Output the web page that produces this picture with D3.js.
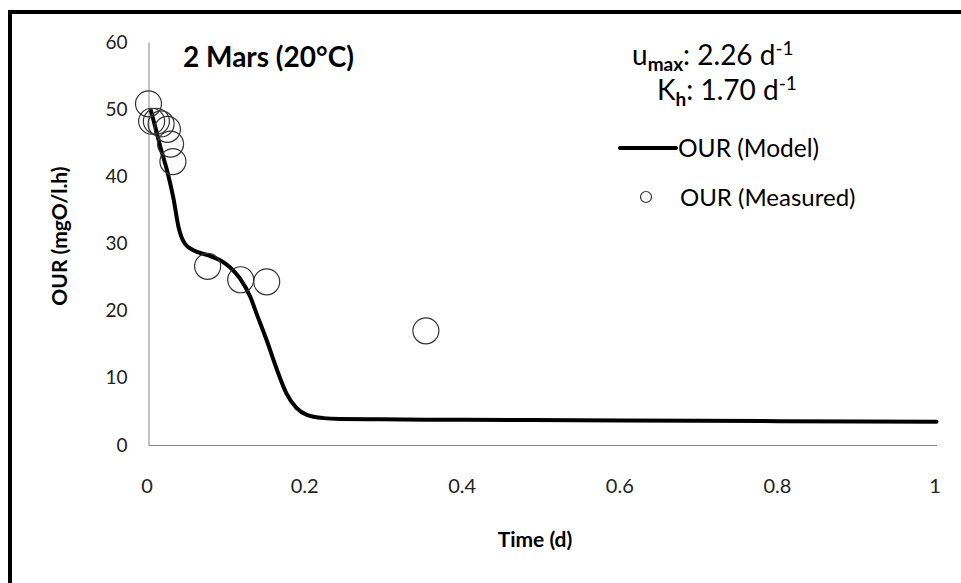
<!DOCTYPE html>
<html>
<head>
<meta charset="utf-8">
<script src="https://cdn.jsdelivr.net/npm/d3@7"></script>
<style>
  body { margin: 0; background: #fff; }
  svg { display: block; font-family: Lato, sans-serif; }
</style>
</head>
<body>
<div id="viz"></div>
<script>
// measured OUR points
const measuredTime = [0.0, 0.004, 0.010, 0.016, 0.024, 0.028, 0.031, 0.075, 0.117, 0.150, 0.352]
const measuredOUR = [50.8, 48.2, 48.2, 47.8, 47.0, 44.8, 42.2, 26.6, 24.6, 24.3, 17.0]

// model curve
const modelTime = [0.003, 0.008, 0.015, 0.025, 0.032, 0.038, 0.046, 0.057, 0.074, 0.091, 0.103,
    0.116, 0.129, 0.137, 0.150, 0.163, 0.175, 0.188, 0.201, 0.222, 0.243, 0.294, 0.4, 0.6, 0.8, 1.0]
const modelOUR = [49.8, 47.6, 44.4, 40.2, 36.5, 32.5, 30.0, 29.0, 28.3, 27.5, 26.5,
    24.8, 22.1, 19.6, 15.6, 11.2, 7.7, 5.5, 4.5, 4.0, 3.87, 3.82, 3.75, 3.65, 3.55, 3.45]

const xTicks = [0, 0.2, 0.4, 0.6, 0.8, 1]
const yTicks = [0, 10, 20, 30, 40, 50, 60]

const width = 961,
    height = 583

const margin = { top: 42, right: 24.5, bottom: 138, left: 148.5 },
    innerWidth = width - margin.left - margin.right,
    innerHeight = height - margin.top - margin.bottom

const svg = d3.select('#viz').append('svg')
    .attr('width', width)
    .attr('height', height)
    .attr('viewBox', [0, 0, width, height])

// outer frame (only top and left edges visible)
svg.append('path')
    .attr('d', `M10,${height} L10,12 L${width},12`)
    .attr('fill', 'none')
    .attr('stroke', '#000')
    .attr('stroke-width', 4)

const g = svg.append('g')
    .attr('transform', `translate(${margin.left}, ${margin.top})`)

const x = d3.scaleLinear().domain([0, 1]).range([0, innerWidth])
const y = d3.scaleLinear().domain([0, 60]).range([innerHeight, 0])

const xAxis = d3.axisBottom(x).tickValues(xTicks).tickSize(0).tickPadding(34)
    .tickFormat(d => d3.format('')(d))
const yAxis = d3.axisLeft(y).tickValues(yTicks).tickSize(0).tickPadding(21)

const xAxisG = g.append('g')
    .attr('transform', `translate(0, ${innerHeight})`)
    .call(xAxis)
const yAxisG = g.append('g').call(yAxis)

;[xAxisG, yAxisG].forEach(a => {
    a.select('.domain').attr('stroke', '#868686').attr('stroke-width', 1)
    a.selectAll('text')
        .attr('fill', '#222')
        .style('font-family', 'Lato, sans-serif')
})
xAxisG.selectAll('text').attr('dx', -2).style('font-size', '20px')
yAxisG.selectAll('text').style('font-size', '19px')

// axis titles
svg.append('text')
    .attr('x', 535)
    .attr('y', 547)
    .attr('text-anchor', 'middle')
    .style('font-weight', 'bold')
    .style('font-size', '21px')
    .text('Time (d)')

svg.append('text')
    .attr('transform', 'translate(67, 236) rotate(-90)')
    .attr('text-anchor', 'middle')
    .style('font-weight', 'bold')
    .style('font-size', '21px')
    .text('OUR (mgO/l.h)')

// chart title inside plot
svg.append('text')
    .attr('x', 183)
    .attr('y', 67)
    .style('font-weight', 'bold')
    .style('font-size', '28px')
    .text('2 Mars (20°C)')

// model parameters
const p1 = svg.append('text').attr('x', 632).attr('y', 65).style('font-size', '28px')
p1.append('tspan').text('u')
p1.append('tspan').attr('dy', 6).style('font-size', '19px').style('font-weight', 'bold').text('max')
p1.append('tspan').attr('dy', -6).text(': 2.26 d')
p1.append('tspan').attr('dy', -10).style('font-size', '19px').text('-1')

const p2 = svg.append('text').attr('x', 657).attr('y', 100).style('font-size', '28px')
p2.append('tspan').text('K')
p2.append('tspan').attr('dy', 6).style('font-size', '19px').style('font-weight', 'bold').text('h')
p2.append('tspan').attr('dy', -6).text(': 1.70 d')
p2.append('tspan').attr('dy', -10).style('font-size', '19px').text('-1')

// model line
const modelData = modelTime.map((t, i) => ({ t: t, v: modelOUR[i] }))
const line = d3.line()
    .x(d => x(d.t))
    .y(d => y(d.v))
    .curve(d3.curveMonotoneX)

g.append('path')
    .datum(modelData)
    .attr('d', line)
    .attr('fill', 'none')
    .attr('stroke', '#000')
    .attr('stroke-width', 4)
    .attr('stroke-linecap', 'round')

// measured points
const measuredData = measuredTime.map((t, i) => ({ t: t, v: measuredOUR[i] }))
g.selectAll('circle.meas').data(measuredData)
    .enter()
    .append('circle')
    .attr('class', 'meas')
    .attr('cx', d => x(d.t))
    .attr('cy', d => y(d.v))
    .attr('r', 13)
    .attr('fill', 'none')
    .attr('stroke', '#333')
    .attr('stroke-width', 1.2)

// legend
const legend = svg.append('g')
legend.append('line')
    .attr('x1', 620).attr('x2', 676)
    .attr('y1', 148).attr('y2', 148)
    .attr('stroke', '#000')
    .attr('stroke-width', 4)
    .attr('stroke-linecap', 'round')
legend.append('text')
    .attr('x', 678).attr('y', 157)
    .style('font-size', '24.5px')
    .text('OUR (Model)')
legend.append('circle')
    .attr('cx', 646).attr('cy', 197)
    .attr('r', 5.5)
    .attr('fill', 'none')
    .attr('stroke', '#333')
    .attr('stroke-width', 1.2)
legend.append('text')
    .attr('x', 680).attr('y', 206)
    .style('font-size', '24px')
    .text('OUR (Measured)')
</script>
</body>
</html>
